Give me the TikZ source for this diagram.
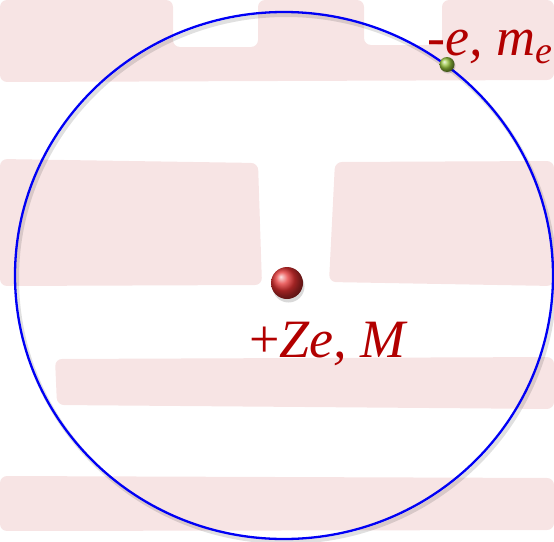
\documentclass[tikz,border=0pt]{standalone}
\usepackage{fontspec}
\setmainfont{Liberation Serif}
\definecolor{blush}{RGB}{247,228,228}
\definecolor{labelred}{RGB}{178,0,0}
\definecolor{orbitblue}{RGB}{0,0,245}
\definecolor{electrongreen}{RGB}{150,195,60}
\definecolor{nucleusred}{RGB}{228,50,50}
\tikzset{
  band/.style={fill=blush, draw=none, rounded corners=7pt},
  orbit/.style={draw=orbitblue, line width=2.3pt},
  orbitshadow/.style={draw=black, opacity=0.12, line width=4pt},
  particle/.style={circle, shading=ball, inner sep=0pt, draw=none},
  particleshadow/.style={circle, fill=black, opacity=0.15, inner sep=0pt, draw=none},
  label/.style={text=labelred, inner sep=0pt, anchor=base west, font=\fontsize{54}{54}\selectfont}
}
\begin{document}
\begin{tikzpicture}[x=1pt,y=-1pt]
\useasboundingbox (0,0) rectangle (554,541);
% background brush strokes
\fill[band] (0,0) -- (173,0) -- (173,47) -- (258,47) -- (258,0) -- (364,0) -- (364,45) -- (442,45) -- (442,0) -- (554,0) -- (554,80) -- (0,82) -- cycle;
\fill[band] (0,159) -- (258,163) -- (262,285) -- (0,286) -- cycle;
\fill[band] (335,162) -- (554,161) -- (554,286) -- (329,282) -- cycle;
\fill[band] (55,359) -- (554,357) -- (554,409) -- (57,405) -- cycle;
\fill[band] (0,476) -- (554,478) -- (554,530) -- (0,531) -- cycle;
% orbit
\draw[orbitshadow] (286,278.5) ellipse [x radius=269, y radius=263.5];
\draw[orbit] (284,275.5) ellipse [x radius=269, y radius=263.5];
% nucleus
\node[particleshadow, minimum size=32pt] at (288.5,286.5) {};
\node[particle, ball color=nucleusred, minimum size=32pt] (nucleus) at (287,283) {};
% electron
\node[particleshadow, minimum size=15pt] at (448,66) {};
\node[particle, ball color=electrongreen, minimum size=15pt] (electron) at (447,64.5) {};
% labels
\node[label] (nuclabel) at (249,357) {+\textit{Ze, M}};
\node[label] (elabel) at (427,55) {\textit{-e, m\raisebox{-8pt}{\fontsize{38}{38}\selectfont e}}};
\end{tikzpicture}
\end{document}
